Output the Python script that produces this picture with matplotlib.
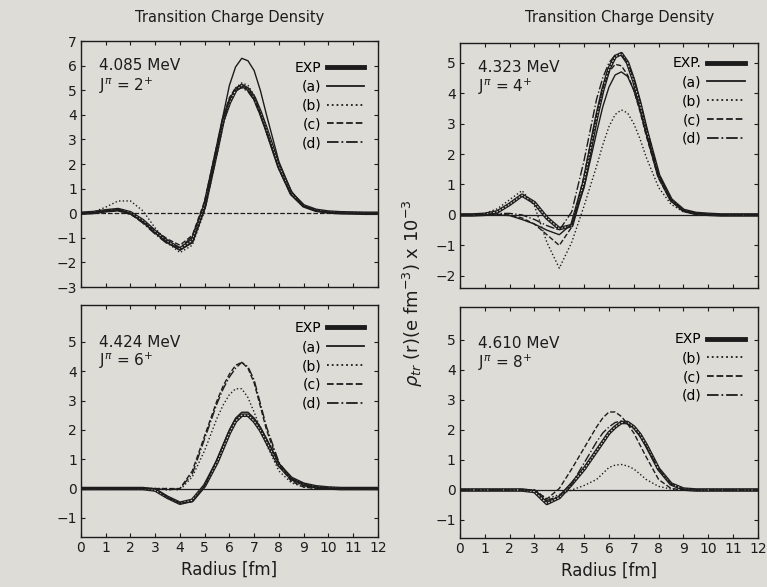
import numpy as np
import matplotlib
matplotlib.use("Agg")
import matplotlib.pyplot as plt
from matplotlib.lines import Line2D

# radius grid [fm]
radius = [0, 0.5, 1, 1.5, 2, 2.5, 3, 3.5, 4, 4.5, 5, 5.5, 5.75, 6, 6.25,
          6.5, 6.75, 7, 7.25, 7.5, 8, 8.5, 9, 9.5, 10, 10.5, 11, 11.5, 12]

# 4.085 MeV, J=2+
exp_2 = [0, 0.03, 0.1, 0.15, 0.02, -0.3, -0.75, -1.15, -1.45, -1.1, 0.3, 2.6, 3.8, 4.5, 5.0,
         5.2, 5.05, 4.7, 4.1, 3.4, 1.9, 0.8, 0.3, 0.12, 0.05, 0.02, 0.01, 0, 0]
a_2 = [0, 0.02, 0.1, 0.15, 0.0, -0.35, -0.8, -1.2, -1.5, -1.2, 0.2, 2.6, 4.0, 5.2, 5.95,
       6.3, 6.2, 5.8, 5.0, 4.0, 2.1, 0.9, 0.3, 0.1, 0.04, 0.01, 0, 0, 0]
b_2 = [0, 0.05, 0.25, 0.5, 0.5, 0.1, -0.6, -1.2, -1.6, -1.3, 0.1, 2.4, 3.6, 4.6, 5.1,
       5.3, 5.2, 4.8, 4.1, 3.3, 1.8, 0.75, 0.28, 0.1, 0.04, 0.01, 0, 0, 0]
c_2 = [0, 0.02, 0.08, 0.1, -0.05, -0.35, -0.7, -1.05, -1.3, -0.9, 0.5, 2.8, 3.9, 4.7, 5.1,
       5.2, 5.05, 4.7, 4.05, 3.3, 1.8, 0.75, 0.28, 0.1, 0.04, 0.01, 0, 0, 0]
d_2 = [0, 0.02, 0.1, 0.12, -0.02, -0.4, -0.85, -1.25, -1.4, -0.95, 0.4, 2.7, 3.8, 4.6, 5.0,
       5.1, 4.95, 4.6, 4.0, 3.3, 1.8, 0.75, 0.28, 0.1, 0.04, 0.01, 0, 0, 0]

# 4.323 MeV, J=4+
exp_4 = [0, 0, 0.02, 0.1, 0.35, 0.65, 0.4, -0.1, -0.45, -0.35, 1.1, 3.2, 4.1, 4.8, 5.2,
         5.3, 5.0, 4.4, 3.65, 2.8, 1.3, 0.5, 0.15, 0.05, 0.02, 0, 0, 0, 0]
a_4 = [0, 0, 0, 0, -0.02, -0.15, -0.3, -0.5, -0.65, -0.3, 0.9, 2.7, 3.55, 4.2, 4.6,
       4.7, 4.55, 4.1, 3.45, 2.7, 1.3, 0.5, 0.15, 0.05, 0.02, 0, 0, 0, 0]
b_4 = [0, 0, 0.05, 0.2, 0.5, 0.8, 0.3, -0.9, -1.75, -0.9, 0.3, 1.6, 2.3, 2.9, 3.3,
       3.45, 3.35, 3.0, 2.5, 1.9, 0.9, 0.35, 0.1, 0.03, 0.01, 0, 0, 0, 0]
c_4 = [0, 0, 0, 0.02, 0, -0.1, -0.3, -0.65, -1.0, -0.4, 1.3, 3.3, 4.15, 4.7, 4.95,
       4.9, 4.6, 4.1, 3.4, 2.6, 1.2, 0.45, 0.15, 0.05, 0.02, 0, 0, 0, 0]
d_4 = [0, 0, 0.02, 0.05, 0.05, 0, -0.15, -0.35, -0.5, 0.1, 1.8, 3.8, 4.5, 5.0, 5.25,
       5.25, 5.0, 4.5, 3.75, 2.9, 1.35, 0.5, 0.15, 0.05, 0.02, 0, 0, 0, 0]

# 4.424 MeV, J=6+
exp_6 = [0, 0, 0, 0, 0, 0, -0.05, -0.3, -0.5, -0.4, 0.1, 0.9, 1.4, 1.9, 2.3,
         2.5, 2.5, 2.3, 2.0, 1.6, 0.8, 0.35, 0.15, 0.06, 0.02, 0, 0, 0, 0]
a_6 = [0, 0, 0, 0, 0, 0, 0, -0.3, -0.5, -0.45, 0.1, 1.0, 1.5, 2.0, 2.4,
       2.6, 2.6, 2.4, 2.1, 1.7, 0.85, 0.35, 0.15, 0.06, 0.02, 0, 0, 0, 0]
b_6 = [0, 0, 0, 0, 0, 0, 0, 0, -0.05, 0.4, 1.3, 2.4, 2.85, 3.2, 3.4,
       3.4, 3.1, 2.6, 2.05, 1.5, 0.6, 0.2, 0.05, 0.02, 0, 0, 0, 0, 0]
c_6 = [0, 0, 0, 0, 0, 0, 0, 0, 0, 0.6, 1.8, 3.0, 3.5, 3.9, 4.2,
       4.3, 4.1, 3.6, 2.8, 2.0, 0.8, 0.25, 0.05, 0, 0, 0, 0, 0, 0]
d_6 = [0, 0, 0, 0, 0, 0, 0, -0.05, 0, 0.5, 1.7, 2.9, 3.4, 3.8, 4.1,
       4.3, 4.15, 3.7, 2.9, 2.1, 0.9, 0.3, 0.1, 0.03, 0, 0, 0, 0, 0]

# 4.610 MeV, J=8+
exp_8 = [0, 0, 0, 0, 0, 0, -0.05, -0.45, -0.25, 0.2, 0.7, 1.3, 1.6, 1.9, 2.1,
         2.25, 2.25, 2.1, 1.85, 1.5, 0.7, 0.2, 0.03, 0, 0, 0, 0, 0, 0]
b_8 = [0, 0, 0, 0, 0, 0, 0, -0.3, -0.15, 0, 0.15, 0.35, 0.55, 0.75, 0.83,
       0.85, 0.8, 0.7, 0.53, 0.35, 0.12, 0.03, 0, 0, 0, 0, 0, 0, 0]
c_8 = [0, 0, 0, 0, 0, 0, 0, -0.3, 0.05, 0.7, 1.4, 2.1, 2.4, 2.6, 2.6,
       2.45, 2.2, 1.9, 1.5, 1.1, 0.35, 0.05, 0, 0, 0, 0, 0, 0, 0]
d_8 = [0, 0, 0, 0, 0, 0, 0, -0.35, -0.2, 0.2, 0.9, 1.6, 1.9, 2.1, 2.25,
       2.3, 2.2, 2.05, 1.8, 1.45, 0.7, 0.2, 0.03, 0, 0, 0, 0, 0, 0]

panels = [
    ("4.085 MeV", "2", [-3, 7], range(-3, 8), "EXP",
     {"(a)": a_2, "(b)": b_2, "(c)": c_2, "(d)": d_2}, exp_2),
    ("4.323 MeV", "4", [-2.4, 5.65], range(-2, 6), "EXP.",
     {"(a)": a_4, "(b)": b_4, "(c)": c_4, "(d)": d_4}, exp_4),
    ("4.424 MeV", "6", [-1.65, 6.25], range(-1, 6), "EXP",
     {"(a)": a_6, "(b)": b_6, "(c)": c_6, "(d)": d_6}, exp_6),
    ("4.610 MeV", "8", [-1.6, 6.1], range(-1, 6), "EXP",
     {"(b)": b_8, "(c)": c_8, "(d)": d_8}, exp_8),
]

bg = "#dddcd7"
ink = "#1c1c1c"
styles = {"(a)": "-", "(b)": ":", "(c)": "--", "(d)": "-."}

fig = plt.figure(figsize=(7.67, 5.87), dpi=100, facecolor=bg)
rects = [
    [0.1056, 0.511, 0.387, 0.419],
    [0.5997, 0.5094, 0.3885, 0.4174],
    [0.1056, 0.0852, 0.387, 0.395],
    [0.5997, 0.0835, 0.3885, 0.3935],
]
leg_top = [0.92, 0.945, 0.93, 0.89]

for i, (energy, spin, ylim, yt, explab, calc, expv) in enumerate(panels):
    ax = fig.add_axes(rects[i], facecolor=bg)
    ax.axhline(0, color=ink, lw=0.9, ls="--" if i == 0 else "-")
    handles = []
    # experimental band: thick line with broken centre
    ax.plot(radius, expv, color=ink, lw=2.6, solid_capstyle="butt")
    ax.plot(radius, expv, color=bg, lw=0.8, ls=(0, (1.5, 1.5)))
    handles.append(Line2D([], [], color=ink, lw=3.5))
    for lab, vals in calc.items():
        ax.plot(radius, vals, color=ink, lw=1.0, ls=styles[lab])
        handles.append(Line2D([], [], color=ink, lw=1.3, ls=styles[lab]))
    labels = [explab] + list(calc.keys())
    ax.legend(handles, labels, loc="upper right", bbox_to_anchor=(0.955, leg_top[i]),
              frameon=False, markerfirst=False, fontsize=10, labelspacing=0.35,
              handlelength=2.7, handletextpad=0.4, borderpad=0, borderaxespad=0)

    ax.set_xlim(0, 12)
    ax.set_ylim(*ylim)
    ax.set_xticks(range(0, 13))
    ax.set_yticks(list(yt))
    ax.tick_params(direction="in", top=True, right=True, length=3, width=0.8,
                   labelsize=10, colors=ink, pad=3)
    for s in ax.spines.values():
        s.set_color(ink)
        s.set_linewidth(1.0)
    if i < 2:
        ax.tick_params(labelbottom=False)
    else:
        ax.set_xlabel("Radius [fm]", fontsize=12, color=ink, labelpad=4)

    ty = 0.9 if i < 2 else 0.84
    ax.text(0.06, ty, energy, transform=ax.transAxes, fontsize=11, color=ink,
            va="center")
    ax.text(0.06, ty - 0.08, r"J$^{\pi}$ = " + spin + r"$^{+}$",
            transform=ax.transAxes, fontsize=11, color=ink, va="center")

fig.text(0.300, 0.971, "Transition Charge Density", ha="center", va="center",
         fontsize=10.5, color=ink)
fig.text(0.808, 0.971, "Transition Charge Density", ha="center", va="center",
         fontsize=10.5, color=ink)
fig.text(0.538, 0.50, r"$\rho_{tr}$ (r)(e fm$^{-3}$) x 10$^{-3}$", rotation=90,
         ha="center", va="center", fontsize=13, color=ink)

fig.savefig("out.png", dpi=100, facecolor=bg)
